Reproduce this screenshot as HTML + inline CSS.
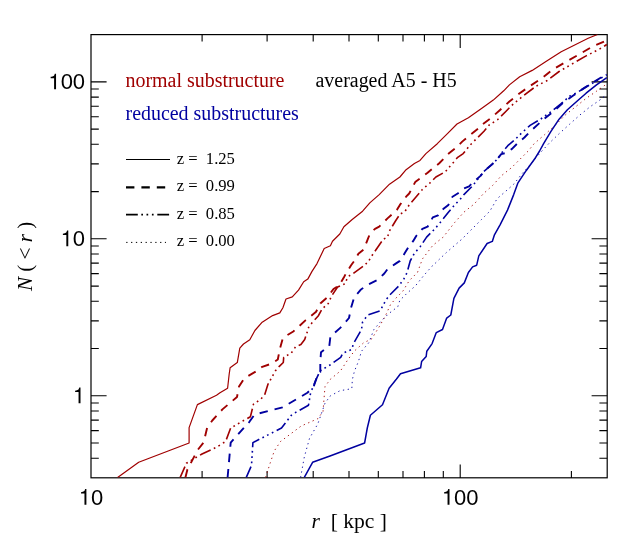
<!DOCTYPE html>
<html><head><meta charset="utf-8"><title>N(&lt;r)</title>
<style>
html,body{margin:0;padding:0;background:#fff;}
body{width:629px;height:550px;overflow:hidden;}
svg{display:block;will-change:transform;opacity:0.999;}
.sans{font-family:"Liberation Sans",sans-serif;}
.serif{font-family:"Liberation Serif",serif;}
text{white-space:pre;}
</style></head><body>
<svg width="629" height="550" viewBox="0 0 629 550">
<rect width="629" height="550" fill="#fff"/>
<defs><clipPath id="c"><rect x="91.0" y="34.6" width="516.8" height="443.2"/></clipPath></defs>
<path d="M202.1,477.9 v-6.8 M202.1,34.6 v6.8 M267.1,477.9 v-6.8 M267.1,34.6 v6.8 M313.2,477.9 v-6.8 M313.2,34.6 v6.8 M349.0,477.9 v-6.8 M349.0,34.6 v6.8 M378.3,477.9 v-6.8 M378.3,34.6 v6.8 M403.0,477.9 v-6.8 M403.0,34.6 v6.8 M424.4,477.9 v-6.8 M424.4,34.6 v6.8 M443.3,477.9 v-6.8 M443.3,34.6 v6.8 M460.2,477.9 v-13.4 M460.2,34.6 v13.4 M571.4,477.9 v-6.8 M571.4,34.6 v6.8 M91.0,458.2 h7.8 M607.2,458.2 h-7.8 M91.0,443.0 h7.8 M607.2,443.0 h-7.8 M91.0,430.6 h7.8 M607.2,430.6 h-7.8 M91.0,420.1 h7.8 M607.2,420.1 h-7.8 M91.0,411.0 h7.8 M607.2,411.0 h-7.8 M91.0,403.0 h7.8 M607.2,403.0 h-7.8 M91.0,395.8 h15.6 M607.2,395.8 h-15.6 M91.0,348.5 h7.8 M607.2,348.5 h-7.8 M91.0,320.9 h7.8 M607.2,320.9 h-7.8 M91.0,301.3 h7.8 M607.2,301.3 h-7.8 M91.0,286.1 h7.8 M607.2,286.1 h-7.8 M91.0,273.6 h7.8 M607.2,273.6 h-7.8 M91.0,263.1 h7.8 M607.2,263.1 h-7.8 M91.0,254.0 h7.8 M607.2,254.0 h-7.8 M91.0,246.0 h7.8 M607.2,246.0 h-7.8 M91.0,238.8 h15.6 M607.2,238.8 h-15.6 M91.0,191.6 h7.8 M607.2,191.6 h-7.8 M91.0,163.9 h7.8 M607.2,163.9 h-7.8 M91.0,144.3 h7.8 M607.2,144.3 h-7.8 M91.0,129.1 h7.8 M607.2,129.1 h-7.8 M91.0,116.7 h7.8 M607.2,116.7 h-7.8 M91.0,106.2 h7.8 M607.2,106.2 h-7.8 M91.0,97.1 h7.8 M607.2,97.1 h-7.8 M91.0,89.0 h7.8 M607.2,89.0 h-7.8 M91.0,81.9 h15.6 M607.2,81.9 h-15.6" stroke="#000" stroke-width="1.1" fill="none"/>
<rect x="91.0" y="34.6" width="516.2" height="443.2" fill="none" stroke="#000" stroke-width="1.2"/>
<g clip-path="url(#c)" fill="none" stroke-linejoin="round">
<path d="M117.6,477.4 L138.7,462.3 L189.1,443.0 L189.1,427.6 L197.4,404.6 L216.5,395.3 L220.0,392.8 L227.6,388.2 L229.2,374.0 L230.1,367.8 L237.3,362.6 L239.8,348.1 L243.5,344.0 L249.8,339.8 L254.9,330.5 L262.2,322.2 L272.6,315.6 L279.8,312.9 L282.9,307.7 L286.0,299.0 L292.3,296.9 L298.5,290.1 L303.7,281.8 L307.8,279.1 L312.0,271.4 L317.0,263.6 L324.2,248.5 L330.4,245.8 L332.5,241.2 L339.8,234.0 L343.9,226.7 L352.2,219.5 L362.6,211.2 L369.8,202.9 L379.2,194.6 L389.5,184.2 L399.9,177.0 L406.1,169.7 L414.4,163.5 L420.0,160.4 L425.9,153.6 L437.3,143.7 L447.7,133.3 L457.0,124.0 L468.4,117.8 L482.9,107.4 L493.3,100.1 L503.7,90.8 L509.4,84.9 L519.7,76.7 L532.2,70.4 L546.7,61.1 L561.2,51.8 L575.7,44.5 L588.2,38.3 L597.5,34.5" stroke="#a00000" stroke-width="1.2"/>
<path d="M185.4,477.4 L187.4,469.5 L197.8,449.8 L203.6,442.6 L207.1,428.0 L212.3,420.5 L222.4,409.4 L237.0,397.0 L239.0,386.6 L244.2,378.3 L256.7,371.0 L262.2,366.8 L271.5,363.7 L277.8,359.5 L279.8,349.2 L282.9,337.8 L293.3,331.5 L305.7,320.1 L316.1,311.8 L320.3,303.5 L327.3,297.3 L333.5,289.0 L338.7,285.9 L343.8,277.6 L345.9,273.5 L351.1,265.2 L354.2,261.0 L358.4,253.7 L363.6,249.5 L367.8,239.2 L369.8,234.0 L375.0,228.8 L379.2,226.7 L387.5,218.4 L396.8,210.1 L399.9,204.9 L406.1,196.7 L409.2,193.5 L415.2,182.1 L423.5,175.9 L427.6,172.8 L434.9,166.6 L439.0,163.5 L445.2,157.3 L448.7,153.6 L456.0,147.8 L462.2,141.6 L469.5,135.4 L478.8,128.1 L482.9,124.0 L491.2,117.8 L499.5,110.5 L509.4,101.5 L519.7,93.2 L530.1,86.0 L542.5,77.7 L552.9,69.4 L567.4,61.1 L581.9,52.8 L592.3,46.6 L606.8,40.4" stroke="#a00000" stroke-width="1.9" stroke-dasharray="8.4 7.0"/>
<path d="M180.2,477.4 L186.4,463.3 L202.0,454.0 L217.5,446.7 L225.6,441.5 L230.7,428.0 L250.4,416.7 L253.5,404.2 L260.2,399.7 L264.6,394.9 L267.8,384.7 L275.5,370.7 L279.3,366.3 L283.3,362.5 L283.7,357.4 L291.4,352.9 L295.8,346.5 L300.9,344.6 L304.7,339.5 L307.9,330.0 L308.9,326.3 L318.2,316.0 L322.3,308.7 L328.3,303.5 L331.4,296.3 L337.6,287.0 L344.9,283.8 L348.0,276.6 L353.2,273.5 L364.6,265.2 L368.7,261.0 L371.9,255.7 L383.3,239.2 L387.5,237.1 L389.5,230.9 L395.8,220.5 L399.9,214.3 L405.1,211.2 L409.2,204.9 L416.2,196.7 L422.4,189.4 L429.7,183.2 L435.9,177.0 L445.2,171.8 L452.5,163.5 L457.7,157.3 L463.2,153.6 L469.5,145.7 L476.7,138.5 L484.0,131.2 L489.2,125.0 L497.5,119.8 L505.8,111.5 L511.4,105.7 L523.9,95.3 L536.3,86.0 L546.7,80.8 L559.1,71.5 L571.6,64.2 L586.1,55.9 L598.5,49.7 L606.8,44.5" stroke="#a00000" stroke-width="1.6" stroke-dasharray="11.8 3.5 1.7 3.5 1.7 3.7 1.7 3.7"/>
<path d="M265.6,477.4 L270.1,463.3 L274.3,450.9 L280.5,441.5 L301.2,426.0 L317.8,418.7 L323.0,411.5 L325.0,386.6 L330.3,379.3 L340.4,371.0 L348.0,359.5 L354.2,351.2 L363.5,342.9 L371.8,338.8 L380.1,325.3 L385.3,316.0 L390.5,304.6 L396.7,297.3 L402.9,291.1 L409.2,280.7 L417.5,272.4 L422.4,259.0 L432.8,245.4 L443.2,237.1 L454.6,222.6 L463.9,212.2 L474.3,203.9 L483.6,193.5 L492.9,185.2 L501.2,175.9 L511.6,167.6 L519.9,159.3 L528.2,151.0 L534.2,143.6 L544.6,134.7 L555.0,125.4 L565.3,115.0 L575.7,106.7 L586.1,98.4 L596.5,91.2 L606.8,83.9" stroke="#a00000" stroke-width="0.9" stroke-dasharray="1.3 3.54"/>
<path d="M304.3,477.4 L312.6,462.3 L330.0,456.0 L364.6,443.0 L367.3,428.0 L370.4,415.2 L382.5,404.8 L389.1,388.2 L396.3,379.3 L400.5,373.7 L420.6,367.8 L421.6,361.6 L426.2,356.4 L426.8,351.2 L432.1,343.6 L436.3,332.6 L442.5,329.5 L446.7,318.1 L450.8,315.0 L453.9,298.4 L459.1,288.1 L464.3,282.9 L468.4,272.5 L472.6,266.9 L476.7,265.2 L478.8,255.9 L487.1,243.5 L492.3,241.4 L494.3,235.2 L500.2,224.6 L507.5,210.1 L513.7,194.6 L517.8,183.2 L526.1,170.7 L534.4,159.3 L539.6,151.0 L543.6,143.6 L550.8,131.6 L559.1,119.2 L567.4,109.8 L577.8,100.5 L586.1,93.2 L596.5,84.9 L606.8,77.7" stroke="#0000a0" stroke-width="1.5"/>
<path d="M227.6,477.4 L230.7,442.6 L249.4,421.8 L254.6,414.6 L282.6,407.3 L307.4,392.8 L313.7,386.6 L316.8,377.3 L320.3,372.0 L320.3,361.6 L321.0,352.3 L329.3,346.0 L330.4,336.7 L339.7,328.4 L342.8,325.3 L349.0,318.0 L351.1,307.7 L354.2,297.3 L360.4,290.1 L365.6,285.9 L378.0,279.7 L384.3,273.5 L387.4,269.3 L395.7,263.6 L399.9,260.9 L405.1,252.6 L408.2,247.5 L413.1,241.2 L416.2,236.0 L422.4,228.8 L427.6,226.7 L432.8,217.4 L438.0,215.3 L443.2,209.1 L448.4,204.9 L452.5,196.7 L457.7,193.5 L463.9,188.4 L469.1,186.3 L473.2,182.1 L480.5,175.9 L484.6,170.7 L491.9,164.5 L497.1,159.3 L501.2,154.1 L505.7,153.0 L512.0,148.9 L518.2,142.6 L524.4,137.5 L530.1,131.6 L542.5,120.2 L552.9,111.9 L563.3,102.6 L573.6,95.3 L584.0,88.1 L592.3,82.9 L600.6,77.7 L606.8,74.0" stroke="#0000a0" stroke-width="1.9" stroke-dasharray="8.4 7.0"/>
<path d="M246.3,477.4 L251.5,465.4 L252.9,442.6 L281.5,428.0 L291.9,414.6 L308.5,405.2 L310.6,392.8 L315.7,380.4 L320.0,370.9 L330.4,364.7 L340.7,357.4 L342.8,353.3 L352.1,349.2 L353.2,344.0 L361.5,329.5 L362.5,322.2 L367.7,314.9 L380.1,310.8 L386.3,299.4 L390.5,294.2 L398.8,285.9 L404.0,278.7 L407.1,272.4 L410.2,261.0 L414.1,253.7 L420.4,246.4 L426.6,237.1 L434.9,228.8 L441.1,221.5 L448.4,212.2 L454.6,204.9 L459.8,199.8 L463.9,194.6 L471.2,187.3 L476.3,181.1 L483.6,171.8 L491.9,164.5 L498.1,158.3 L502.3,152.1 L507.8,145.7 L516.1,138.5 L522.3,132.3 L530.1,125.4 L540.5,119.2 L550.8,111.9 L561.2,103.6 L569.5,96.3 L577.8,92.2 L586.1,87.0 L596.5,80.8 L606.8,74.6" stroke="#0000a0" stroke-width="1.6" stroke-dasharray="11.8 3.5 1.7 3.5 1.7 3.7 1.7 3.7"/>
<path d="M300.6,477.4 L304.3,457.1 L309.5,438.4 L317.8,423.9 L325.0,403.2 L330.3,395.9 L340.0,390.7 L351.8,388.7 L352.4,379.3 L354.5,371.0 L358.4,361.6 L361.5,351.2 L368.7,342.9 L373.9,329.5 L380.1,322.2 L388.4,313.9 L397.8,306.7 L399.8,300.4 L407.1,293.2 L415.4,285.9 L423.7,275.6 L432.0,266.2 L434.9,263.6 L446.3,252.6 L454.6,245.4 L461.8,239.2 L472.2,228.8 L481.5,219.5 L489.8,211.2 L497.1,198.7 L504.3,192.5 L513.7,184.2 L522.0,173.8 L530.3,164.5 L540.0,153.1 L548.8,143.6 L559.1,133.7 L569.5,124.3 L579.9,115.0 L590.2,106.7 L600.6,99.5 L606.8,94.3" stroke="#0000a0" stroke-width="0.9" stroke-dasharray="1.3 3.54"/>
</g>
<g class="sans" font-size="22.0" fill="#000">
<path d="M84.47,504.70 L84.47,493.59 L81.01,493.59 L81.01,492.20 C84.00,491.83 84.49,491.46 85.17,489.10 L86.40,489.10 L86.40,504.70 Z" fill="#000"/>
<text x="91.00" y="504.70">0</text>
<path d="M447.55,504.70 L447.55,493.59 L444.10,493.59 L444.10,492.20 C447.09,491.83 447.57,491.46 448.25,489.10 L449.49,489.10 L449.49,504.70 Z" fill="#000"/>
<text x="454.08" y="504.70">0</text>
<text x="466.32" y="504.70">0</text>
<path d="M78.57,403.18 L78.57,392.07 L75.11,392.07 L75.11,390.68 C78.10,390.31 78.59,389.93 79.27,387.58 L80.50,387.58 L80.50,403.18 Z" fill="#000"/>
<path d="M66.33,246.21 L66.33,235.10 L62.88,235.10 L62.88,233.72 C65.87,233.34 66.36,232.97 67.04,230.62 L68.27,230.62 L68.27,246.21 Z" fill="#000"/>
<text x="72.87" y="246.21">0</text>
<path d="M54.10,89.25 L54.10,78.14 L50.65,78.14 L50.65,76.75 C53.64,76.38 54.12,76.01 54.81,73.65 L56.04,73.65 L56.04,89.25 Z" fill="#000"/>
<text x="60.64" y="89.25">0</text>
<text x="72.87" y="89.25">0</text>
</g>
<g class="serif" fill="#000">
<text x="311.5" y="527.9" font-size="20.8" textLength="75.5" lengthAdjust="spacingAndGlyphs" xml:space="preserve"><tspan font-style="italic">r</tspan>  [ kpc ]</text>
<text transform="translate(31.8,291.1) rotate(-90)" font-size="20.4" textLength="69.5" lengthAdjust="spacingAndGlyphs" xml:space="preserve"><tspan font-style="italic">N</tspan> ( &lt; <tspan font-style="italic">r</tspan> )</text>
</g>
<g class="serif" font-size="19.95">
<text x="125.5" y="86.8" fill="#a00000">normal substructure</text>
<text x="125.5" y="120.2" fill="#0000a0">reduced substructures</text>
<text x="315.5" y="87" fill="#000">averaged A5 - H5</text>
</g>
<g class="serif" font-size="16.6" fill="#000">
<text x="176.7" y="163.8" xml:space="preserve">z =  1.25</text>
<text x="176.7" y="191.3" xml:space="preserve">z =  0.99</text>
<text x="176.7" y="218.8" xml:space="preserve">z =  0.85</text>
<text x="176.7" y="246.3" xml:space="preserve">z =  0.00</text>
</g>
<g stroke="#000" fill="none">
<path d="M126.0,159.5 H170.0" stroke-width="1.1"/>
<path d="M126.0,187.3 H170.0" stroke-width="2.2" stroke-dasharray="8.4 7.0"/>
<path d="M126.0,214.6 H170.0" stroke-width="1.6" stroke-dasharray="11.8 3.5 1.7 3.5 1.7 3.7 1.7 3.7"/>
<path d="M126.2,242.4 H166.0" stroke-width="1.0" stroke-dasharray="1.3 3.54"/>
</g>
</svg>
</body></html>
